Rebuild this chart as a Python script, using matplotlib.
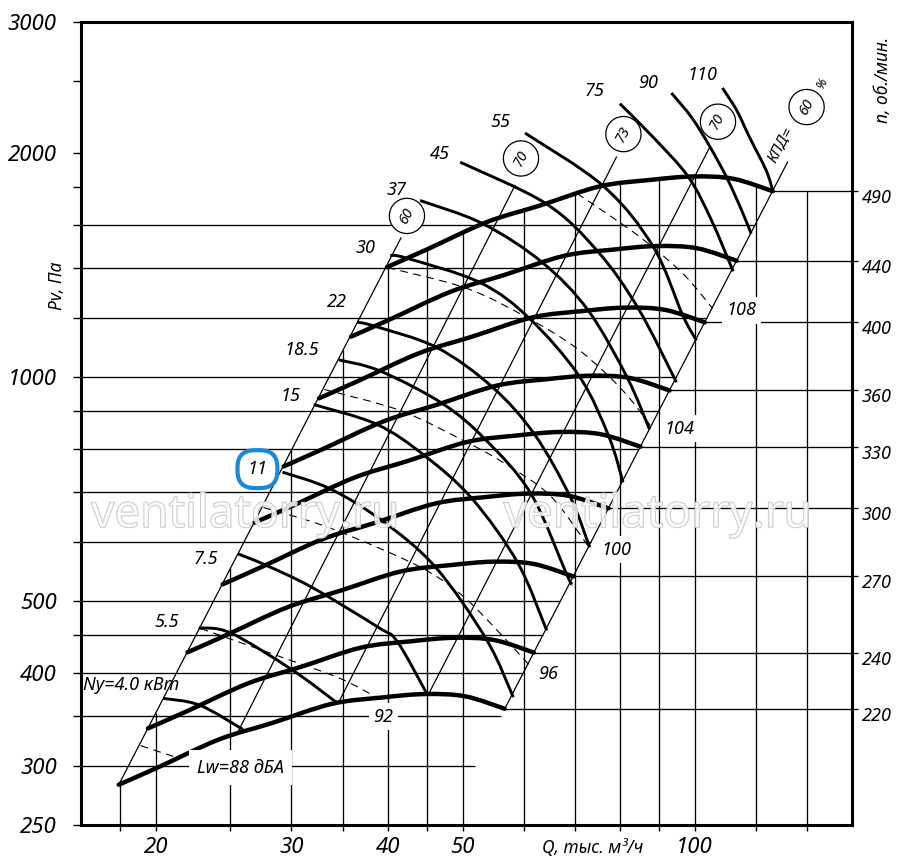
import numpy as np
import matplotlib
matplotlib.use("Agg")
import matplotlib.pyplot as plt
import matplotlib.patheffects as pe
from matplotlib.path import Path
from matplotlib.patches import PathPatch

plt.rcParams['font.family'] = ['Noto Sans', 'DejaVu Sans']

# --- fan speed curves: n (об/мин), Q (тыс. м3/ч), Pv (Па)
rpm = [220, 240, 270, 300, 330, 360, 400, 440, 490]
rpm_Q = [
    [17.91, 20.18, 24.13, 28.29, 33.84, 39.28, 44.67, 50.38, 56.71],
    [19.54, 22.02, 26.33, 30.86, 36.91, 42.85, 48.74, 54.96, 61.86],
    [21.99, 24.77, 29.62, 34.71, 41.53, 48.20, 54.83, 61.82, 69.59],
    [24.43, 27.52, 32.91, 38.57, 46.14, 53.56, 60.92, 68.69, 77.33],
    [26.87, 30.27, 36.20, 42.43, 50.75, 58.91, 67.01, 75.56, 85.06],
    [29.31, 33.02, 39.49, 46.29, 55.37, 64.27, 73.10, 82.43, 92.79],
    [32.57, 36.69, 43.88, 51.43, 61.52, 71.41, 81.22, 91.59, 103.1],
    [35.83, 40.36, 48.27, 56.57, 67.67, 78.55, 89.35, 100.75, 113.4],
    [39.90, 44.95, 53.75, 63.00, 75.36, 87.48, 99.50, 112.2, 126.3],
]
rpm_P = [
    [283.2, 299.1, 325.6, 342.7, 363.7, 370.9, 374.9, 372.3, 358.2],
    [337.1, 356.0, 387.4, 407.8, 432.8, 441.4, 446.2, 443.1, 426.3],
    [426.6, 450.6, 490.3, 516.2, 547.7, 558.7, 564.7, 560.8, 539.5],
    [526.6, 556.3, 605.4, 637.2, 676.2, 689.7, 697.2, 692.3, 666.1],
    [637.3, 673.1, 732.5, 771.1, 818.2, 834.6, 843.6, 837.7, 806.0],
    [758.4, 801.0, 871.7, 917.6, 973.7, 993.2, 1004.0, 997.0, 959.2],
    [936.3, 988.9, 1076.2, 1132.9, 1202.2, 1226.2, 1239.5, 1230.8, 1184.2],
    [1132.9, 1196.6, 1302.2, 1370.8, 1454.6, 1483.6, 1499.8, 1489.3, 1432.9],
    [1405, 1484, 1615, 1700, 1804, 1840, 1860, 1847, 1777],
]

# --- motor power curves Ny (кВт)
power_kw = ["4.0", "5.5", "7.5", "11", "15", "18.5", "22", "30", "37", "45", "55", "75", "90", "110"]
power_Q = [
    [20.44, 22.81, 25.95],
    [22.74, 25.02, 30.03, 34.41],
    [25.57, 27.77, 31.87, 38.86, 41.15, 44.98],
    [29.2, 33.63, 39.30, 46.11, 53.72, 58.19],
    [32.06, 38.70, 44.63, 51.46, 58.98, 64.30],
    [34.54, 39.05, 47.00, 53.54, 61.34, 68.24, 69.26],
    [36.49, 38.44, 46.30, 54.64, 61.96, 68.90, 73.1],
    [40.29, 42.34, 52.66, 61.04, 70.91, 77.42, 80.75],
    [44.04, 53.15, 63.48, 72.80, 81.80, 87.38],
    [49.65, 64.13, 74.91, 84.51, 94.70],
    [60.26, 76.10, 88.32, 96.53, 100.57],
    [79.99, 88.32, 98.14, 105.2, 112.2],
    [93.31, 99.10, 104.6, 110.19, 115.1, 118.4],
    [108.66, 113.4, 117.8, 123.8, 126.3],
]
power_P = [
    [370, 362.2, 336],
    [460.1, 452.9, 404.3, 364.5],
    [578.6, 558.8, 521.8, 461, 440.9, 374.8],
    [745, 707.9, 641.3, 555.4, 443.6, 371.2],
    [918.4, 863.8, 784.3, 686.1, 562.3, 456.3],
    [1054.6, 1019.3, 922.3, 824.0, 696.8, 543.1, 527.4],
    [1184.9, 1170.5, 1095.5, 969.6, 838.0, 691.5, 590.3],
    [1457, 1444.4, 1339.9, 1199.2, 1001.3, 831.2, 721.9],
    [1726.9, 1606.8, 1424.8, 1228.1, 997.3, 850.5],
    [1944.2, 1710.5, 1474.3, 1236.4, 984.2],
    [2127.5, 1806.3, 1498.2, 1209.9, 1119.7],
    [2330, 2101, 1857.7, 1623, 1386.7],
    [2408, 2233, 2042, 1849, 1674, 1558],
    [2446, 2282, 2101, 1896, 1780],
]

# --- efficiency lines (КПД, %)
eff_label = ["60", "70", "73", "70", "60"]
eff_Q = [[17.91, 41.6], [25.62, 58.48], [34.50, 79.17], [45.17, 104.38], [56.71, 132.0]]
eff_P = [[283.2, 1538], [335, 1809], [364.6, 1975], [374.7, 2027], [358.2, 1945]]

# --- sound power level lines Lw (дБА)
lw_label = ["88", "92", "96", "100", "104", "108"]
lw_Q = [
    [19.12, 21.10],
    [22.87, 30.0, 34.72, 38.75],
    [27.60, 32.71, 39.10, 45.40, 51.14, 60.98],
    [33.10, 41.52, 50.09, 56.43, 64.94, 72.70],
    [39.94, 50.68, 60.61, 69.53, 76.48, 82.41, 88.0],
    [70.36, 81.67, 89.32, 97.66, 105.5],
]
lw_P = [
    [319.6, 309],
    [459.2, 415.7, 393.3, 370.8],
    [667.6, 633.4, 588.1, 545.9, 497.6, 410.6],
    [962.1, 901.4, 821.8, 767.6, 692.9, 593.5],
    [1403.4, 1315.2, 1202.2, 1102.4, 1014.2, 935.6, 855.3],
    [1764.9, 1588.9, 1479.2, 1360.7, 1236.2],
]

# grid and ticks
p_grid = [300, 350, 400, 450, 500, 600, 700, 800, 900, 1000, 1200, 1400, 1600]
q_grid = [18, 20, 25, 30, 35, 40, 45, 50, 60, 70, 80, 90, 100, 120, 140]
y_major = [250, 300, 400, 500, 1000, 2000, 3000]
y_minor = [350, 450, 600, 700, 800, 900, 1200, 1400, 1600, 1800, 2500]
x_major = [20, 30, 40, 50, 100]
x_minor = [18, 25, 35, 45, 60, 70, 80, 90, 120, 140]

# label offsets (pixels)
power_off = [(-32, 13), (-32, 6), (-32, -5), (-25, 3), (-23, 9), (-37, 10), (-20, 20),
             (-25, 7), (-23, 10), (-20, 8), (-25, 11), (-25, 13), (-23, 10), (-20, 13)]
eff_off = [(6, 22), (6, 27), (7, 23), (9, 27), (19, 55)]
lw_off = [(67, -11), (6, -19), (19, -9), (29, -4), (28, -1), (29, -2)]


def smooth_path(qs, ps):
    # Catmull-Rom through the read points, done in log-log space
    x = np.log10(qs)
    y = np.log10(ps)
    n = len(x)
    verts = [(x[0], y[0])]
    codes = [Path.MOVETO]
    for i in range(n - 1):
        a = i - 1 if i > 0 else i
        d = i + 2 if i + 2 < n else i + 1
        c1 = (x[i] + (x[i + 1] - x[a]) / 6, y[i] + (y[i + 1] - y[a]) / 6)
        c2 = (x[i + 1] - (x[d] - x[i]) / 6, y[i + 1] - (y[d] - y[i]) / 6)
        verts += [c1, c2, (x[i + 1], y[i + 1])]
        codes += [Path.CURVE4] * 3
    return Path(10 ** np.array(verts), codes)


fig = plt.figure(figsize=(9, 8.67), dpi=100)
ax = fig.add_axes([81 / 900, 42 / 867, 771 / 900, 803 / 867])
ax.set_xscale('log')
ax.set_yscale('log')
ax.set_xlim(16, 160)
ax.set_ylim(250, 3000)

thin = dict(color='black', lw=0.95, zorder=1, solid_capstyle='butt')

# horizontal pressure grid: from the axis to the right 60 % line
lq0, lq1 = np.log10(eff_Q[4])
lp0, lp1 = np.log10(eff_P[4])
for p in p_grid:
    q_end = 10 ** (lq0 + (np.log10(p) - lp0) * (lq1 - lq0) / (lp1 - lp0))
    ax.plot([16, q_end], [p, p], **thin)

# vertical flow grid: from the bottom up to the left 60 % line / top speed curve
for q in q_grid:
    if q <= rpm_Q[-1][0]:
        p_top = 10 ** np.interp(np.log10(q), np.log10(eff_Q[0]), np.log10(eff_P[0]))
    elif q <= rpm_Q[-1][-1]:
        p_top = 10 ** np.interp(np.log10(q), np.log10(rpm_Q[-1]), np.log10(rpm_P[-1]))
    else:
        p_top = rpm_P[-1][-1]
    ax.plot([q, q], [250, p_top], **thin)

# speed lines to the right axis
for n, qs, ps in zip(rpm, rpm_Q, rpm_P):
    ax.plot([qs[-1], 163], [ps[-1], ps[-1]], clip_on=False, **thin)
    ax.annotate(str(n), (160, ps[-1]), xytext=(25, -7), textcoords='offset pixels',
                ha='center', va='center', fontsize=13, style='italic', annotation_clip=False)

# efficiency lines
for lab, qs, ps, off in zip(eff_label, eff_Q, eff_P, eff_off):
    ax.plot(qs, ps, color='black', lw=0.9, zorder=2)
    ax.annotate(lab, (qs[1], ps[1]), xytext=off, textcoords='offset pixels',
                ha='center', va='center', rotation=62, fontsize=10.5, style='italic', zorder=7,
                bbox=dict(boxstyle='circle,pad=0.66', fc='white', ec='black', lw=0.9))
ax.annotate("КПД=", (eff_Q[4][1], eff_P[4][1]), xytext=(-7, 17), textcoords='offset pixels',
            ha='center', va='center', rotation=62, fontsize=11, style='italic')
ax.annotate("%", (eff_Q[4][1], eff_P[4][1]), xytext=(35, 79), textcoords='offset pixels',
            ha='center', va='center', rotation=62, fontsize=9, style='italic')

# sound level lines
for lab, qs, ps, off in zip(lw_label, lw_Q, lw_P, lw_off):
    ax.add_patch(PathPatch(smooth_path(qs, ps), fc='none', ec='black', lw=0.8,
                           linestyle=(0, (7, 5)), zorder=2))
    txt = "Lw=88 дБА" if lab == "88" else lab
    pad = 0.45 if lab == "88" else 0.25
    ax.annotate(txt, (qs[-1], ps[-1]), xytext=off, textcoords='offset pixels',
                ha='center', va='center', fontsize=13, style='italic', zorder=7,
                bbox=dict(boxstyle='square,pad=%s' % pad, fc='white', ec='none'))

# power curves
for lab, qs, ps, off in zip(power_kw, power_Q, power_P, power_off):
    ax.add_patch(PathPatch(smooth_path(qs, ps), fc='none', ec='black', lw=2.1,
                           zorder=3, capstyle='butt', joinstyle='round'))
    txt = "Ny=4.0 кВт" if lab == "4.0" else lab
    kw = {}
    if lab == "11":
        kw['bbox'] = dict(boxstyle='round,pad=0.55,rounding_size=0.95', fc='none', ec='#1b8ad6', lw=3.0)
    ax.annotate(txt, (qs[0], ps[0]), xytext=off, textcoords='offset pixels',
                ha='center', va='center', fontsize=13, style='italic', zorder=7, **kw)

# speed curves
for qs, ps in zip(rpm_Q, rpm_P):
    ax.add_patch(PathPatch(smooth_path(qs, ps), fc='none', ec='black', lw=3.2,
                           zorder=4, capstyle='round', joinstyle='round'))

# watermark
for xc in (0.213, 0.748):
    ax.text(xc, 0.386, "ventilatorry.ru", transform=ax.transAxes, ha='center', va='center',
            fontsize=33, color=(1, 1, 1, 0.6), zorder=5,
            path_effects=[pe.Stroke(linewidth=1.0, foreground='#c4c4c4'), pe.Normal()])

# axes, ticks, labels
for s in ax.spines.values():
    s.set_linewidth(2.2)
ax.set_yticks(y_major)
ax.set_yticks(y_minor, minor=True)
ax.set_yticklabels([str(v) for v in y_major])
ax.set_xticks(x_major)
ax.set_xticks(x_minor, minor=True)
ax.set_xticklabels([str(v) for v in x_major])
ax.yaxis.set_minor_formatter(matplotlib.ticker.NullFormatter())
ax.xaxis.set_minor_formatter(matplotlib.ticker.NullFormatter())
ax.tick_params(axis='y', which='both', direction='out', length=5.8, width=1, pad=11.5, labelsize=16)
ax.tick_params(axis='x', which='both', direction='out', length=4.3, width=1, pad=4.5, labelsize=16)
for t in ax.get_xticklabels() + ax.get_yticklabels():
    t.set_fontstyle('italic')

ax.text(73.8, -0.029, "Q, тыс. м³/ч", transform=ax.get_xaxis_transform(),
        ha='center', va='center', fontsize=12.5, style='italic')
ax.text(-0.031, 0.672, "Pv, Па", transform=ax.transAxes, rotation=90,
        ha='center', va='center', fontsize=12.5, style='italic')
ax.text(1.040, 0.928, "n, об./мин.", transform=ax.transAxes, rotation=90,
        ha='center', va='center', fontsize=12.5, style='italic')

fig.savefig("out.png", dpi=100)
